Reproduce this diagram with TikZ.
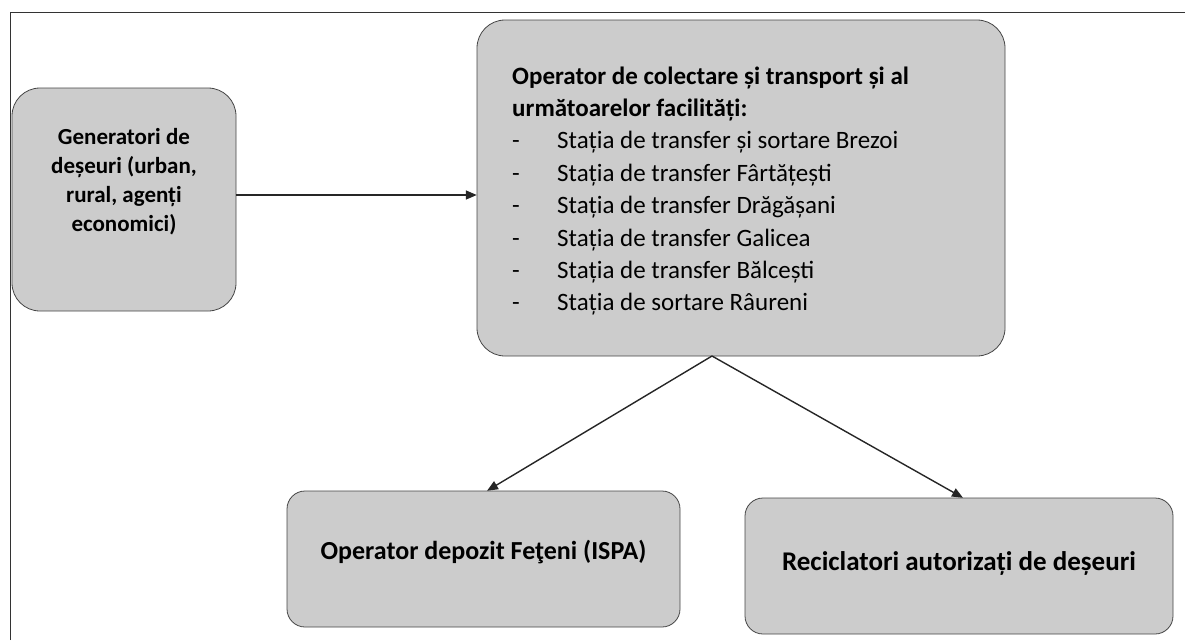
\documentclass[tikz,border=0pt]{standalone}
\usepackage{fontspec}
\setmainfont{Carlito}
\usetikzlibrary{arrows.meta}
\definecolor{boxfill}{RGB}{204,204,204}
\definecolor{boxline}{RGB}{70,70,70}
\tikzset{
  box/.style={draw=boxline, line width=0.8pt, fill=boxfill, rounded corners=28pt, inner sep=0pt},
  conn/.style={draw=black!85, line width=1.4pt, -{Triangle[width=9pt,length=11pt]}},
  big/.style={font=\fontsize{25}{31}\selectfont, inner sep=0pt, anchor=base west},
  bigb/.style={font=\fontsize{25}{31}\selectfont\bfseries, inner sep=0pt, anchor=base west},
}
\begin{document}
\begin{tikzpicture}[x=1pt,y=-1pt]
\useasboundingbox (0,0) rectangle (1185,640);
\draw[line width=1pt, black!80] (10,640) -- (10,12) -- (1185,12);
% boxes
\draw[box] (12,88) rectangle (236,311);
\node[minimum width=224pt, minimum height=223pt] (gen) at (124,199.5) {};
\draw[box] (477,20) rectangle (1005,356);
\node[minimum width=528pt, minimum height=336pt] (op) at (741,188) {};
\draw[box, rounded corners=18pt] (287,491) rectangle (680,627);
\node[minimum width=393pt, minimum height=136pt] (dep) at (483.5,559) {};
\draw[box, rounded corners=18pt] (745,498) rectangle (1173,634);
\node[minimum width=428pt, minimum height=136pt] (rec) at (959,566) {};
% texts
\node[inner sep=0pt, align=center, font=\fontsize{23}{29}\selectfont\bfseries] (gentxt) at (124,182) {Generatori de\\deșeuri (urban,\\rural, agenți\\economici)};
\node[bigb] (t1) at (512,84) {Operator de colectare și transport și al};
\node[bigb] (t2) at (512,116.4) {următoarelor facilități:};
\node[big] (d1) at (512,148.8) {-};
\node[big] (s1) at (557,148.8) {Stația de transfer și sortare Brezoi};
\node[big] (d2) at (512,181.2) {-};
\node[big] (s2) at (557,181.2) {Stația de transfer Fârtățești};
\node[big] (d3) at (512,213.6) {-};
\node[big] (s3) at (557,213.6) {Stația de transfer Drăgășani};
\node[big] (d4) at (512,246) {-};
\node[big] (s4) at (557,246) {Stația de transfer Galicea};
\node[big] (d5) at (512,278.4) {-};
\node[big] (s5) at (557,278.4) {Stația de transfer Bălcești};
\node[big] (d6) at (512,310.8) {-};
\node[big] (s6) at (557,310.8) {Stația de sortare Râureni};
\node[inner sep=0pt, font=\fontsize{26}{31}\selectfont\bfseries] (deptxt) at (483.5,552) {Operator depozit Feţeni (ISPA)};
\node[inner sep=0pt, font=\fontsize{27}{31}\selectfont\bfseries] (rectxt) at (959,563) {Reciclatori autorizați de deșeuri};
% connectors
\coordinate (opb) at (712,356);
\draw[conn] (gen.east |- 0,195) -- (op.west |- 0,195);
\draw[conn] (opb) -- (dep.north -| 487,0);
\draw[conn] (opb) -- (rec.north -| 963,0);
\end{tikzpicture}
\end{document}
